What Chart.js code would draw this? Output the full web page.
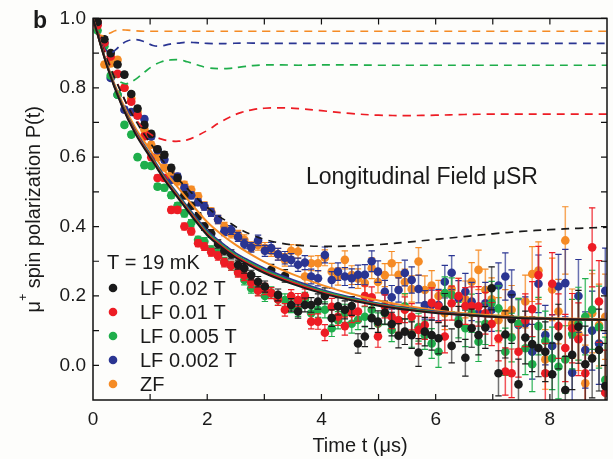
<!DOCTYPE html>
<html>
<head>
<meta charset="utf-8">
<script src="https://cdn.jsdelivr.net/npm/chart.js@4.4.1/dist/chart.umd.min.js"></script>
<style>
  html, body { margin: 0; padding: 0; background: #fdfdfb; }
  #wrap { width: 613px; height: 459px; }
</style>
</head>
<body>
<div id="wrap"><canvas id="muChart" width="613" height="459"></canvas></div>
<script>
// time bins (µs) shared by all measured series
const times = [
  0.08, 0.20, 0.31, 0.43, 0.55, 0.67, 0.78, 0.90, 1.02, 1.13,
  1.25, 1.37, 1.48, 1.60, 1.72, 1.84, 1.95, 2.07, 2.19, 2.30,
  2.42, 2.54, 2.65, 2.77, 2.89, 3.01, 3.12, 3.24, 3.36, 3.47,
  3.59, 3.71, 3.82, 3.94, 4.06, 4.18, 4.29, 4.41, 4.53, 4.64,
  4.76, 4.88, 4.99, 5.11, 5.23, 5.35, 5.46, 5.58, 5.70, 5.81,
  5.93, 6.05, 6.16, 6.28, 6.40, 6.52, 6.63, 6.75, 6.87, 6.98,
  7.10, 7.22, 7.33, 7.45, 7.57, 7.69, 7.80, 7.92, 8.04, 8.15,
  8.27, 8.39, 8.50, 8.62, 8.74, 8.86, 8.97
];
// error bar half height per bin
const errBars = [
  0.006, 0.006, 0.006, 0.007, 0.007, 0.007, 0.007, 0.008, 0.008, 0.008,
  0.009, 0.009, 0.009, 0.010, 0.010, 0.010, 0.011, 0.011, 0.012, 0.012,
  0.013, 0.013, 0.014, 0.014, 0.015, 0.016, 0.016, 0.017, 0.018, 0.018,
  0.019, 0.020, 0.021, 0.022, 0.023, 0.024, 0.025, 0.026, 0.027, 0.028,
  0.029, 0.030, 0.031, 0.033, 0.034, 0.035, 0.037, 0.038, 0.040, 0.041,
  0.043, 0.045, 0.047, 0.049, 0.051, 0.053, 0.055, 0.057, 0.060, 0.062,
  0.065, 0.068, 0.070, 0.073, 0.076, 0.079, 0.083, 0.086, 0.090, 0.093,
  0.097, 0.100, 0.105, 0.110, 0.114, 0.118, 0.123
];

const lf002 = [
  0.99, 0.94, 0.90, 0.867, 0.838, 0.782, 0.74, 0.693, 0.667, 0.623,
  0.607, 0.569, 0.54, 0.49, 0.46, 0.43, 0.40, 0.38, 0.35, 0.33,
  0.32, 0.29, 0.28, 0.26, 0.241, 0.227, 0.275, 0.203, 0.258, 0.174,
  0.155, 0.174, 0.174, 0.184, 0.20, 0.136, 0.17, 0.16, 0.171, 0.063,
  0.083, 0.136, 0.126, 0.152, 0.119, 0.085, 0.097, 0.087, 0.037, 0.097,
  0.087, 0.078, 0.16, 0.056, 0.119, 0.022, 0.107, 0.087, 0.109, 0.222,
  -0.023, 0.089, 0.133, -0.055, 0.08, 0.061, 0.05, 0.039, -0.026, 0.083,
  -0.071, 0.03, 0.111, 0.003, 0.02, 0.044, -0.06
];
const lf001 = [
  0.98, 0.93, 0.89, 0.84, 0.80, 0.76, 0.72, 0.66, 0.60, 0.54,
  0.54, 0.448, 0.448, 0.40, 0.386, 0.352, 0.342, 0.326, 0.315, 0.296,
  0.287, 0.267, 0.258, 0.238, 0.215, 0.22, 0.208, 0.19, 0.16, 0.20,
  0.188, 0.20, 0.126, 0.126, 0.094, 0.169, 0.14, 0.113, 0.15, 0.155,
  0.20, 0.196, 0.083, 0.17, 0.14, 0.13, 0.16, 0.14, 0.102, 0.116,
  0.18, 0.17, 0.083, 0.179, 0.20, 0.171, 0.171, 0.17, 0.15, 0.119,
  0.078, -0.018, -0.023, 0.039, 0.13, 0.162, 0.26, -0.023, 0.235, 0.113,
  0.05, 0.107, 0.075, -0.023, 0.34, 0.184, -0.079
];
const lf0005 = [
  0.965, 0.92, 0.835, 0.78, 0.693, 0.665, 0.60, 0.577, 0.575, 0.515,
  0.512, 0.49, 0.46, 0.438, 0.41, 0.362, 0.357, 0.333, 0.323, 0.299,
  0.287, 0.27, 0.246, 0.222, 0.217, 0.20, 0.21, 0.19, 0.188, 0.17,
  0.16, 0.19, 0.15, 0.16, 0.16, 0.107, 0.13, 0.15, 0.12, 0.131,
  0.14, 0.16, 0.12, 0.15, 0.102, 0.13, 0.17, 0.09, 0.11, 0.087,
  0.063, 0.039, 0.208, 0.203, 0.13, 0.107, 0.15, 0.068, 0.12, 0.18,
  0.164, 0.039, 0.08, 0.12, 0.049, 0.003, 0.113, 0.07, 0.02, -0.004,
  0.017, 0.09, 0.12, 0.14, 0.16, 0.11, -0.042
];
const lf0002 = [
  0.985, 0.93, 0.828, 0.78, 0.737, 0.73, 0.72, 0.71, 0.66, 0.62,
  0.593, 0.535, 0.544, 0.511, 0.49, 0.47, 0.458, 0.44, 0.42, 0.386,
  0.39, 0.37, 0.35, 0.34, 0.36, 0.33, 0.338, 0.32, 0.31, 0.304,
  0.29, 0.296, 0.256, 0.251, 0.318, 0.246, 0.27, 0.256, 0.251, 0.261,
  0.261, 0.30, 0.27, 0.212, 0.196, 0.217, 0.266, 0.246, 0.22, 0.174,
  0.174, 0.174, 0.241, 0.267, 0.193, 0.212, 0.184, 0.15, 0.179, 0.16,
  0.23, 0.256, 0.205, 0.116, 0.121, 0.039, 0.235, 0.087, 0.056, 0.227,
  0.237, -0.021, 0.20, 0.044, 0.10, 0.063, 0.215
];
const zf = [
  0.99, 0.867, 0.87, 0.881, 0.80, 0.77, 0.73, 0.68, 0.636, 0.60,
  0.57, 0.549, 0.53, 0.52, 0.506, 0.487, 0.46, 0.443, 0.42, 0.40,
  0.38, 0.376, 0.362, 0.342, 0.347, 0.338, 0.33, 0.32, 0.304, 0.33,
  0.328, 0.256, 0.294, 0.294, 0.31, 0.27, 0.256, 0.304, 0.26, 0.25,
  0.237, 0.28, 0.24, 0.26, 0.294, 0.261, 0.24, 0.22, 0.299, 0.217,
  0.23, 0.20, 0.15, 0.22, 0.20, 0.19, 0.241, 0.275, 0.217, 0.19,
  0.13, 0.15, 0.16, 0.12, 0.184, 0.263, 0.273, 0.017, 0.219, 0.155,
  0.36, 0.12, 0.09, -0.052, 0.15, 0.116, 0.14
];

// fitted curves (solid)
const fitTimes = [0, 0.25, 0.5, 0.75, 1, 1.25, 1.5, 1.75, 2, 2.25, 2.5, 2.75, 3, 3.5, 4, 4.5, 5, 5.5, 6, 6.5, 7, 7.5, 8, 8.5, 9];
const fit002 = [1.0, 0.86, 0.75, 0.665, 0.60, 0.535, 0.48, 0.425, 0.375, 0.34, 0.31, 0.287, 0.266, 0.234, 0.208, 0.188, 0.172, 0.16, 0.151, 0.145, 0.14, 0.136, 0.134, 0.132, 0.131];
const fit001 = [1.0, 0.862, 0.752, 0.668, 0.603, 0.538, 0.483, 0.429, 0.379, 0.344, 0.314, 0.291, 0.27, 0.238, 0.211, 0.19, 0.174, 0.161, 0.152, 0.145, 0.14, 0.136, 0.134, 0.132, 0.131];
const fit0005 = [1.0, 0.863, 0.754, 0.67, 0.606, 0.541, 0.486, 0.432, 0.383, 0.348, 0.318, 0.295, 0.274, 0.241, 0.214, 0.193, 0.176, 0.163, 0.153, 0.146, 0.141, 0.137, 0.134, 0.132, 0.131];
const fit0002 = [1.0, 0.864, 0.756, 0.673, 0.609, 0.545, 0.49, 0.437, 0.388, 0.353, 0.323, 0.30, 0.279, 0.246, 0.218, 0.196, 0.178, 0.165, 0.155, 0.147, 0.141, 0.137, 0.134, 0.132, 0.131];
const fitZf = [1.0, 0.866, 0.762, 0.682, 0.621, 0.562, 0.51, 0.46, 0.413, 0.377, 0.347, 0.321, 0.298, 0.262, 0.232, 0.207, 0.187, 0.171, 0.159, 0.15, 0.144, 0.139, 0.136, 0.134, 0.133];

// simulated curves (dashed)
const simTimes = [0, 0.1, 0.2, 0.3, 0.4, 0.5, 0.6, 0.75, 0.9, 1.05, 1.2, 1.35, 1.5, 1.65, 1.8, 2.0, 2.2, 2.4, 2.6, 2.8, 3.0, 3.3, 3.6, 4.0, 4.5, 5.0, 5.5, 6.0, 6.5, 7.0, 7.5, 8.0, 8.5, 9.0];
const sim002 = [1.0, 0.95, 0.90, 0.86, 0.82, 0.785, 0.75, 0.705, 0.665, 0.63, 0.595, 0.565, 0.535, 0.51, 0.485, 0.455, 0.43, 0.41, 0.39, 0.375, 0.363, 0.352, 0.346, 0.343, 0.344, 0.348, 0.355, 0.363, 0.371, 0.379, 0.386, 0.391, 0.395, 0.398];
const sim001 = [1.0, 0.955, 0.91, 0.865, 0.825, 0.785, 0.75, 0.71, 0.68, 0.662, 0.652, 0.647, 0.646, 0.65, 0.66, 0.677, 0.698, 0.716, 0.729, 0.737, 0.741, 0.742, 0.74, 0.734, 0.726, 0.721, 0.72, 0.721, 0.723, 0.724, 0.724, 0.724, 0.724, 0.724];
const sim0005 = [1.0, 0.95, 0.90, 0.86, 0.83, 0.815, 0.812, 0.825, 0.845, 0.863, 0.875, 0.88, 0.881, 0.875, 0.867, 0.858, 0.855, 0.856, 0.86, 0.864, 0.866, 0.866, 0.865, 0.866, 0.866, 0.865, 0.865, 0.865, 0.865, 0.865, 0.865, 0.865, 0.865, 0.865];
const sim0002 = [1.0, 0.95, 0.915, 0.90, 0.91, 0.925, 0.935, 0.939, 0.933, 0.922, 0.921, 0.926, 0.929, 0.931, 0.93, 0.928, 0.927, 0.928, 0.929, 0.929, 0.928, 0.928, 0.928, 0.928, 0.928, 0.928, 0.928, 0.928, 0.928, 0.928, 0.928, 0.928, 0.928, 0.928];
const simZf = [1.0, 0.955, 0.95, 0.958, 0.965, 0.967, 0.966, 0.964, 0.963, 0.963, 0.963, 0.963, 0.963, 0.963, 0.963, 0.963, 0.963, 0.963, 0.963, 0.963, 0.963, 0.963, 0.963, 0.963, 0.963, 0.963, 0.963, 0.963, 0.963, 0.963, 0.963, 0.963, 0.963, 0.963];

const labels = ['LF 0.02 T', 'LF 0.01 T', 'LF 0.005 T', 'LF 0.002 T', 'ZF'];
const colors = ['#1a1a1a', '#ed1c24', '#1fae4b', '#2a3592', '#f58b25'];
const barColors = ['rgba(40,40,40,0.65)', 'rgba(237,28,36,0.75)', 'rgba(31,174,75,0.75)', 'rgba(42,53,146,0.7)', 'rgba(245,139,37,0.75)'];

const xTicks = [0, 2, 4, 6, 8];
const yTicks = [0.0, 0.2, 0.4, 0.6, 0.8, 1.0];

const FONT = "'Liberation Sans', Arial, sans-serif";
Chart.defaults.font.family = FONT;

const measured = [lf002, lf001, lf0005, lf0002, zf];
const fits = [fit002, fit001, fit0005, fit0002, fitZf];
const sims = [sim002, sim001, sim0005, sim0002, simZf];

function toPoints(xs, ys) {
  return xs.map((x, i) => ({ x: x, y: ys[i] }));
}

const datasets = [];
fits.forEach((ys, i) => {
  datasets.push({
    label: 'fit ' + labels[i],
    data: toPoints(fitTimes, ys),
    showLine: true, pointRadius: 0, borderColor: colors[i], borderWidth: 2,
    cubicInterpolationMode: 'monotone', order: i, clip: 0
  });
});
sims.forEach((ys, i) => {
  datasets.push({
    label: 'sim ' + labels[i],
    data: toPoints(simTimes, ys),
    showLine: true, pointRadius: 0, borderColor: colors[i], borderWidth: 1.7,
    borderDash: [8, 6], tension: 0.4, order: 5 + i, clip: 0
  });
});
measured.forEach((ys, i) => {
  datasets.push({
    label: labels[i],
    data: toPoints(times, ys),
    backgroundColor: colors[i], borderWidth: 0, pointRadius: 4.3, pointHoverRadius: 4.3,
    order: 10 + i, clip: 0, errBars: errBars, barColor: barColors[i], capColor: colors[i]
  });
});

// error bars under each measured series
const errorBarPlugin = {
  id: 'errorBars',
  beforeDatasetDraw(chart, args) {
    const ds = chart.data.datasets[args.index];
    if (!ds.errBars) return;
    const { ctx, chartArea: a, scales: { x, y } } = chart;
    ctx.save();
    ctx.beginPath();
    ctx.rect(a.left, a.top, a.right - a.left, a.bottom - a.top);
    ctx.clip();
    ds.data.forEach((p, i) => {
      const e = ds.errBars[i];
      const px = x.getPixelForValue(p.x);
      const yTop = y.getPixelForValue(p.y + e);
      const yBot = y.getPixelForValue(p.y - e);
      ctx.strokeStyle = ds.barColor;
      ctx.lineWidth = 1.5;
      ctx.beginPath();
      ctx.moveTo(px, yTop); ctx.lineTo(px, yBot);
      ctx.stroke();
      ctx.strokeStyle = ds.capColor;
      ctx.lineWidth = 1.2;
      ctx.beginPath();
      ctx.moveTo(px - 3.2, yTop); ctx.lineTo(px + 3.2, yTop);
      ctx.moveTo(px - 3.2, yBot); ctx.lineTo(px + 3.2, yBot);
      ctx.stroke();
    });
    ctx.restore();
  }
};

// frame, inward ticks, texts, legend
const decorPlugin = {
  id: 'decor',
  beforeDraw(chart) {
    const ctx = chart.ctx;
    ctx.save();
    ctx.fillStyle = '#fdfdfb';
    ctx.fillRect(0, 0, chart.width, chart.height);
    ctx.restore();
  },
  afterDraw(chart) {
    const { ctx, chartArea: a, scales: { x, y } } = chart;
    ctx.save();
    ctx.strokeStyle = '#111';
    ctx.lineWidth = 1.5;
    ctx.strokeRect(a.left, a.top, a.right - a.left, a.bottom - a.top);

    ctx.lineWidth = 1.2;
    ctx.beginPath();
    for (let t = 1; t < 9; t++) {
      const px = x.getPixelForValue(t);
      ctx.moveTo(px, a.bottom); ctx.lineTo(px, a.bottom - 6);
      ctx.moveTo(px, a.top); ctx.lineTo(px, a.top + 6);
    }
    for (let k = 0; k <= 10; k++) {
      const py = y.getPixelForValue(k / 10);
      ctx.moveTo(a.left, py); ctx.lineTo(a.left + 6, py);
      ctx.moveTo(a.right, py); ctx.lineTo(a.right - 6, py);
    }
    ctx.stroke();

    ctx.fillStyle = '#1a1a1a';
    ctx.textBaseline = 'alphabetic';
    ctx.font = 'bold 23px ' + FONT;
    ctx.textAlign = 'left';
    ctx.fillText('b', 33, 28);

    ctx.font = '23px ' + FONT;
    ctx.fillText('Longitudinal Field \u03bcSR', 306, 184);

    // x title
    ctx.font = '20px ' + FONT;
    ctx.textAlign = 'center';
    ctx.fillText('Time t (\u03bcs)', 360, 452);

    // y title with superscript
    ctx.save();
    ctx.translate(40, (a.top + a.bottom) / 2);
    ctx.rotate(-Math.PI / 2);
    ctx.textAlign = 'left';
    const mu = '\u03bc', rest = ' spin polarization P(t)';
    ctx.font = '20px ' + FONT;
    const wMu = ctx.measureText(mu).width;
    const wRest = ctx.measureText(rest).width;
    ctx.font = '12px ' + FONT;
    const wPlus = ctx.measureText('+').width;
    const start = -(wMu + wPlus + wRest) / 2;
    ctx.font = '20px ' + FONT;
    ctx.fillText(mu, start, 0);
    ctx.font = '12px ' + FONT;
    ctx.fillText('+', start + wMu, -13);
    ctx.font = '20px ' + FONT;
    ctx.fillText(rest, start + wMu + wPlus, 0);
    ctx.restore();

    // legend
    ctx.textAlign = 'left';
    ctx.font = '20px ' + FONT;
    ctx.fillText('T = 19 mK', 107, 269);
    ctx.textBaseline = 'middle';
    labels.forEach((lab, i) => {
      const cy = 288 + i * 24;
      ctx.fillStyle = colors[i];
      ctx.beginPath();
      ctx.arc(113, cy, 4.3, 0, Math.PI * 2);
      ctx.fill();
      ctx.fillStyle = '#1a1a1a';
      ctx.fillText(lab, 140, cy + 1);
    });
    ctx.restore();
  }
};

new Chart(document.getElementById('muChart'), {
  type: 'scatter',
  data: { datasets: datasets },
  options: {
    responsive: false,
    animation: false,
    events: [],
    layout: { padding: { top: 18, right: 6, left: 0, bottom: 0 } },
    plugins: { legend: { display: false }, tooltip: { enabled: false } },
    scales: {
      x: {
        type: 'linear', min: 0, max: 9,
        grid: { display: false, drawTicks: false },
        border: { display: false },
        afterFit: s => { s.height = 59; },
        afterBuildTicks: s => { s.ticks = xTicks.map(v => ({ value: v })); },
        ticks: { font: { size: 19 }, color: '#1a1a1a', padding: 8, maxRotation: 0, callback: v => String(v) }
      },
      y: {
        type: 'linear', min: -0.1, max: 1.0,
        grid: { display: false, drawTicks: false },
        border: { display: false },
        afterFit: s => { s.width = 93; },
        afterBuildTicks: s => { s.ticks = yTicks.map(v => ({ value: v })); },
        ticks: { font: { size: 19 }, color: '#1a1a1a', padding: 7, callback: v => v.toFixed(1) }
      }
    }
  },
  plugins: [errorBarPlugin, decorPlugin]
});
</script>
</body>
</html>
